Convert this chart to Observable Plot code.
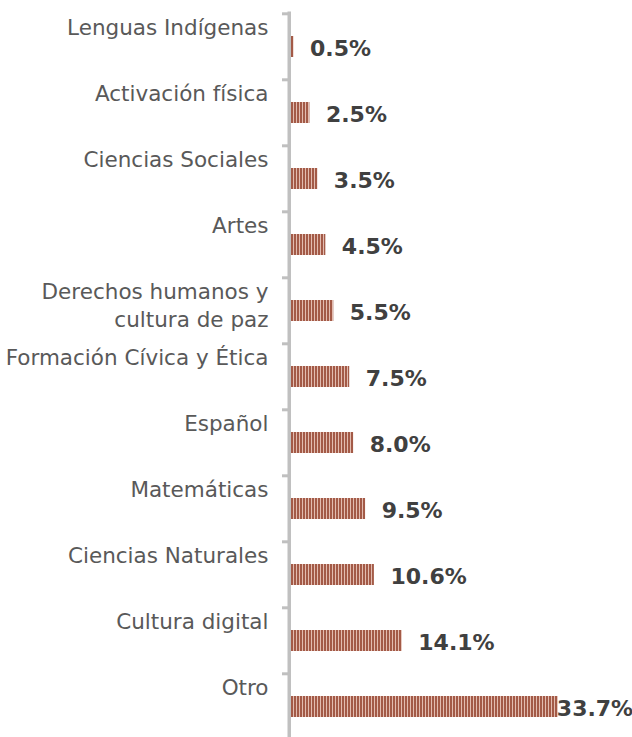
<!DOCTYPE html>
<html>
<head>
<meta charset="utf-8">
<script src="https://cdn.jsdelivr.net/npm/d3@7"></script>
<script src="https://cdn.jsdelivr.net/npm/@observablehq/plot@0.6"></script>
<style>
  html, body { margin: 0; padding: 0; background: #fff; }
  #chart svg { display: block; }
</style>
</head>
<body>
<div id="chart"></div>
<script>
const categories = [
  "Lenguas Indígenas",
  "Activación física",
  "Ciencias Sociales",
  "Artes",
  "Derechos humanos y\ncultura de paz",
  "Formación Cívica y Ética",
  "Español",
  "Matemáticas",
  "Ciencias Naturales",
  "Cultura digital",
  "Otro"
];
const values = [0.5, 2.5, 3.5, 4.5, 5.5, 7.5, 8.0, 9.5, 10.6, 14.1, 33.7];
const valueLabels = ["0.5%", "2.5%", "3.5%", "4.5%", "5.5%", "7.5%", "8.0%", "9.5%", "10.6%", "14.1%", "33.7%"];

const data = categories.map((c, i) => ({category: c, value: values[i], label: valueLabels[i]}));
const maxValue = d3.max(values);

const defs = () => {
  const svg = d3.create("svg:defs");
  const p = svg.append("pattern")
    .attr("id", "stripes")
    .attr("patternUnits", "userSpaceOnUse")
    .attr("width", 3).attr("height", 3);
  p.append("rect").attr("width", 3).attr("height", 3).attr("fill", "#e2bcb0");
  p.append("rect").attr("width", 2).attr("height", 3).attr("fill", "#a35a47");
  return svg.node();
};

const chart = Plot.plot({
  width: 632,
  height: 737,
  marginLeft: 289.5,
  marginRight: 24,
  marginTop: 11.5,
  marginBottom: -5,
  x: {domain: [0, 40], axis: null},
  y: {domain: categories, paddingInner: 0.684, paddingOuter: 0.342, axis: null},
  style: {background: "#fff", overflow: "visible"},
  marks: [
    defs,
    Plot.barX(data, {x: "value", y: "category", fill: "url(#stripes)"}),
    Plot.ruleX([0], {stroke: "#c0c0c0", strokeWidth: 3.5, dx: -0.75}),
    Plot.ruleY(categories, {y: d => d, x1: 0, x2: 0, dy: -33.2, insetLeft: -7.5, insetRight: 1, stroke: "#c0c0c0", strokeWidth: 3}),
    Plot.text(data, {
      y: "category", text: "category", frameAnchor: "left",
      textAnchor: "end", lineAnchor: "top", dx: -21.5, dy: -31.5,
      fontFamily: "DejaVu Sans", fontSize: 21.5, fill: "#595959", lineHeight: 1.3
    }),
    Plot.text(data.filter(d => d.value < maxValue), {
      x: "value", y: "category", text: "label", textAnchor: "start", dx: 16, dy: 1.5,
      fontFamily: "DejaVu Sans", fontWeight: "bold", fontSize: 22, fill: "#404040"
    }),
    Plot.text(data.filter(d => d.value === maxValue), {
      x: "value", y: "category", text: "label", textAnchor: "start", dx: -1.5, dy: 1.5,
      fontFamily: "DejaVu Sans", fontWeight: "bold", fontSize: 22, fill: "#404040"
    })
  ]
});
document.getElementById("chart").appendChild(chart);
</script>
</body>
</html>
